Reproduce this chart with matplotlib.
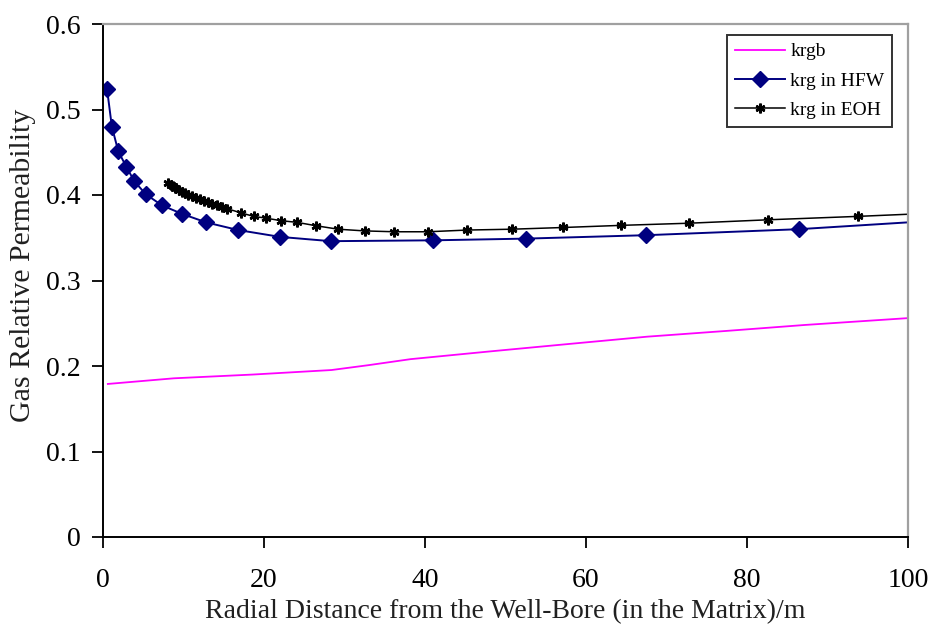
import matplotlib
matplotlib.use("Agg")
import matplotlib.pyplot as plt

# krgb (magenta line, no markers)
krgb_x = [0.6, 8.8, 18.6, 28.4, 33.0, 38.2, 48.0, 57.8, 67.6, 77.4, 87.2, 100.0]
krgb_y = [0.179, 0.1856, 0.190, 0.1953, 0.201, 0.208, 0.217, 0.2257, 0.2343, 0.241, 0.248, 0.256]

# krg in HFW (diamonds)
hfw_x = [0.5, 1.1, 1.9, 2.9, 3.9, 5.3, 7.3, 9.8, 12.8, 16.8, 22.0, 28.3, 41.0, 52.6, 67.5, 86.4, 100.0]
hfw_y = [0.524, 0.480, 0.451, 0.433, 0.416, 0.401, 0.388, 0.378, 0.368, 0.359, 0.351, 0.346,
         0.347, 0.349, 0.353, 0.360, 0.368]
hfw_mark = list(range(len(hfw_x) - 1))

# krg in EOH (star markers)
eoh_x = [8.1, 8.4, 8.7, 9.0, 9.4, 9.8, 10.2, 10.6, 11.0, 11.5, 12.0, 12.5, 13.0, 13.6, 14.2, 14.8,
         15.4, 17.2, 18.7, 20.2, 22.1, 24.1, 26.5, 29.2, 32.5, 36.2, 40.4, 45.2, 50.8, 57.2,
         64.4, 72.8, 82.6, 93.8, 100.0]
eoh_y = [0.414, 0.412, 0.410, 0.408, 0.406, 0.404, 0.402, 0.400, 0.399, 0.397, 0.395, 0.393,
         0.392, 0.390, 0.388, 0.386,
         0.384, 0.379, 0.375, 0.373, 0.370, 0.368, 0.364, 0.360, 0.358, 0.357, 0.357, 0.359,
         0.360, 0.362, 0.3645, 0.367, 0.371, 0.375, 0.3775]
eoh_mark = list(range(len(eoh_x) - 1))

x_ticks = [0, 20, 40, 60, 80, 100]
y_ticks = [0, 0.1, 0.2, 0.3, 0.4, 0.5, 0.6]
y_tick_labels = ["0", "0.1", "0.2", "0.3", "0.4", "0.5", "0.6"]

plt.rcParams['font.family'] = ['Liberation Serif', 'DejaVu Serif']

fig = plt.figure(figsize=(9.35, 6.31), dpi=100)
ax = fig.add_axes([103/935, 1 - 537/631, (908 - 103)/935, (537 - 24)/631])

ax.plot(krgb_x, krgb_y, color='#ff00ff', lw=1.3, label='krgb')
ax.plot(hfw_x, hfw_y, color='#000080', lw=1.4, marker='D', markersize=8.5,
        markevery=hfw_mark, label='krg in HFW')
ax.plot(eoh_x, eoh_y, color='black', lw=1.1, marker=(6, 2, 0), markersize=7, mew=1.8,
        markevery=eoh_mark, label='krg in EOH')

ax.set_xlim(0, 100)
ax.set_ylim(0, 0.6)
ax.set_xticks(x_ticks)
ax.set_xticklabels([str(v) for v in x_ticks])
ax.set_yticks(y_ticks)
ax.set_yticklabels(y_tick_labels)
ax.tick_params(direction='out', length=8, width=1.3, labelsize=20, colors='black', pad=8)
ax.tick_params(axis='x', pad=14)

for s in ['left', 'bottom']:
    ax.spines[s].set_color('black')
    ax.spines[s].set_linewidth(1.4)
for s in ['top', 'right']:
    ax.spines[s].set_color('#a0a0a0')
    ax.spines[s].set_linewidth(1.6)

ax.set_xlabel('Radial Distance from the Well-Bore (in the Matrix)/m', fontsize=20, color='#202020', labelpad=5)
ax.set_ylabel('Gas Relative Permeability', fontsize=21.5, color='#202020')
ax.yaxis.set_label_coords(-0.083, 0.53)

leg = ax.legend(loc='upper right', fontsize=14, frameon=True, fancybox=False, edgecolor='black',
                handlelength=2.6, borderpad=0.4, labelspacing=0.6, handletextpad=0.25,
                borderaxespad=0)
leg.get_frame().set_linewidth(1.4)
leg.set_bbox_to_anchor((892/935, 1 - 35/631), transform=fig.transFigure)

fig.savefig('out.png', dpi=100)
